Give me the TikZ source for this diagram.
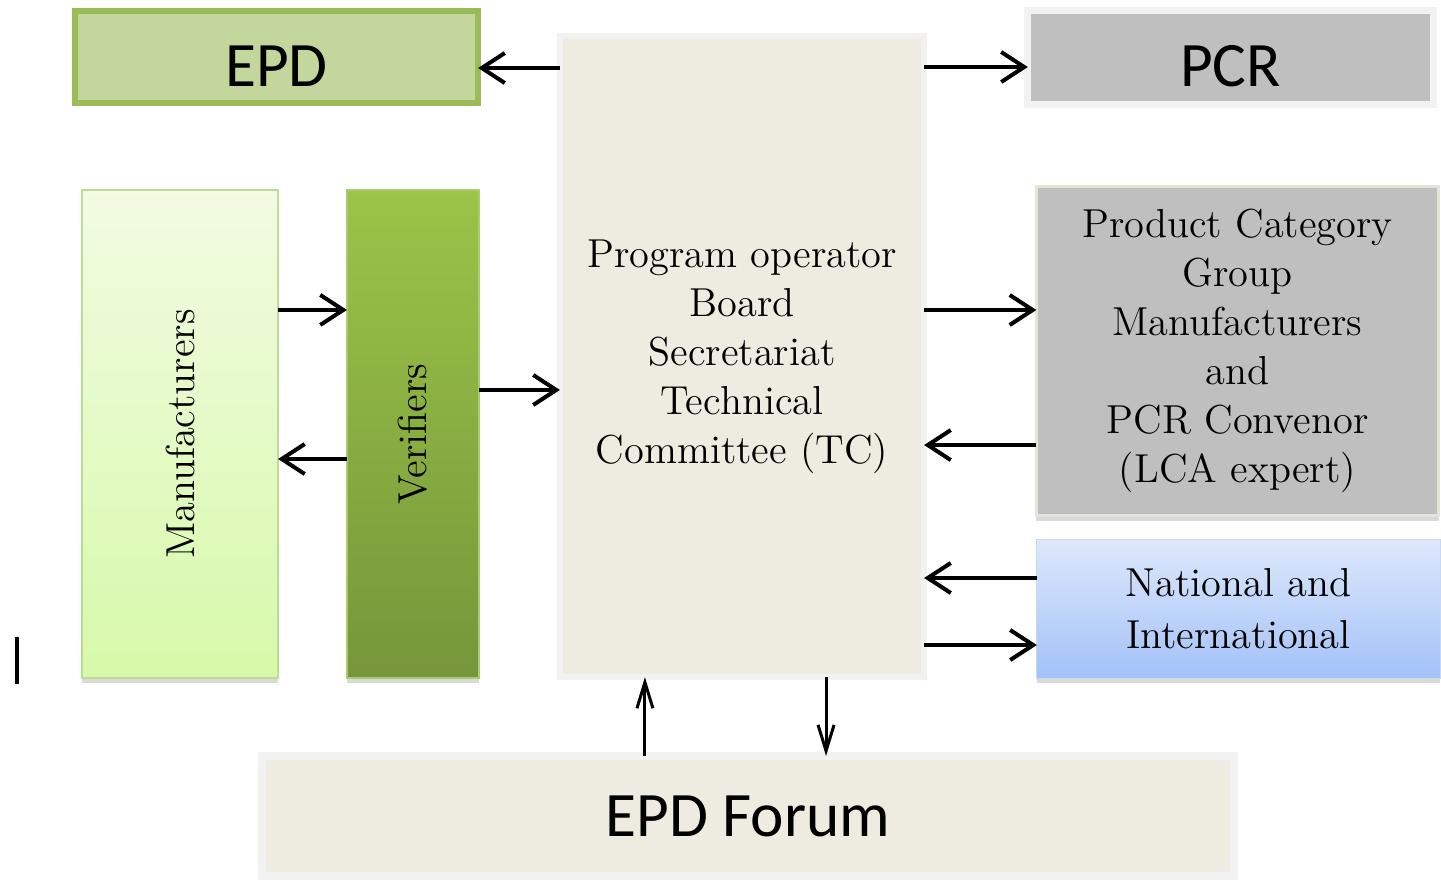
\documentclass[tikz,border=0pt]{standalone}
\usepackage{fontspec}
\usepackage{graphicx}
\newfontfamily\calib{Carlito}
\usetikzlibrary{arrows.meta,shadows}
\definecolor{epdfill}{HTML}{C3D69B}
\definecolor{epdline}{HTML}{9BBB59}
\definecolor{pofill}{HTML}{EEECE1}
\definecolor{softline}{HTML}{F2F2F2}
\definecolor{pcrfill}{HTML}{BFBFBF}
\definecolor{pcgline}{HTML}{E4E4DA}
\definecolor{mantop}{HTML}{F2FBE3}
\definecolor{manbot}{HTML}{D7F9A9}
\definecolor{manline}{HTML}{BBDC94}
\definecolor{vertop}{HTML}{9BC448}
\definecolor{verbot}{HTML}{76963A}
\definecolor{verline}{HTML}{A9CC72}
\definecolor{nattop}{HTML}{DDE8FB}
\definecolor{natbot}{HTML}{A3C2F8}
\definecolor{natline}{HTML}{C6D9F1}
\begin{document}
\begin{tikzpicture}[x=0.01cm,y=-0.01cm,
  blk/.style={rectangle,outer sep=0pt,inner sep=0pt,align=center,
    font=\fontsize{11.5}{13.9}\selectfont},
  big/.style={font=\calib\fontsize{18}{20}\selectfont},
  shd/.style={drop shadow={shadow xshift=0cm,shadow yshift=-0.05cm,opacity=0.3}},
  arr/.style={-{Straight Barb[length=0.23cm,width=0.3cm]},line width=0.04cm},
  varr/.style={-{Straight Barb[length=0.26cm,width=0.16cm]},line width=0.03cm}]
\useasboundingbox (0,0) rectangle (1441,887);
% top row
\node(NEPD)[blk,big,draw=epdline,fill=epdfill,line width=0.06cm,minimum width=4.03cm,minimum height=0.92cm,text height=0.58cm,text depth=0cm] at (276.5,57){EPD};
\node(NPO)[blk,draw=softline,fill=pofill,line width=0.06cm,minimum width=3.64cm,minimum height=6.41cm] at (742,356.5){Program operator\\Board\\Secretariat\\Technical\\Committee (TC)};
\node(NPCR)[blk,big,draw=softline,fill=pcrfill,line width=0.07cm,minimum width=4.05cm,minimum height=0.93cm,text height=0.58cm,text depth=0cm] at (1230.5,57.5){PCR};
% left side
\node(NMAN)[blk,shd,draw=manline,line width=0.02cm,top color=mantop,bottom color=manbot,minimum width=1.96cm,minimum height=4.88cm] at (180,434){\rotatebox{90}{Manufacturers}};
\node(NVER)[blk,shd,draw=verline,line width=0.015cm,top color=vertop,bottom color=verbot,minimum width=1.32cm,minimum height=4.88cm] at (413,434){\rotatebox{90}{Verifiers}};
% right side
\node(NPCG)[blk,shd,draw=pcgline,fill=pcrfill,line width=0.03cm,minimum width=4.02cm,minimum height=3.29cm] at (1237.5,351){Product Category\\Group\\Manufacturers\\and\\PCR Convenor\\(LCA expert)};
\node(NNAT)[blk,shd,draw=natline,line width=0.01cm,top color=nattop,bottom color=natbot,minimum width=4.03cm,minimum height=1.38cm,font=\fontsize{11.5}{14.8}\selectfont] at (1238.5,609){National and\\International};
% bottom
\node(NFOR)[blk,big,draw=softline,fill=pofill,line width=0.08cm,minimum width=9.72cm,minimum height=1.2cm] at (748,816){EPD Forum};
% arrows
\draw[arr] ([yshift=-0.11cm]NEPD.east -| NPO.west) -- ([yshift=-0.11cm]NEPD.east);
\draw[arr] ([yshift=-0.095cm]NPCR.west -| NPO.east) -- ([yshift=-0.095cm]NPCR.west);
\draw[arr] ([yshift=1.24cm]NMAN.east) -- ([yshift=1.24cm]NVER.west);
\draw[arr] ([yshift=-0.25cm]NVER.west) -- ([yshift=-0.25cm]NMAN.east);
\draw[arr] ([yshift=0.44cm]NVER.east) -- ([yshift=0.44cm]NVER.east -| NPO.west);
\draw[arr] ([yshift=0.41cm]NPCG.west -| NPO.east) -- ([yshift=0.41cm]NPCG.west);
\draw[arr] ([yshift=-0.94cm]NPCG.west) -- ([yshift=-0.94cm]NPCG.west -| NPO.east);
\draw[arr] ([yshift=0.31cm]NNAT.west) -- ([yshift=0.31cm]NNAT.west -| NPO.east);
\draw[arr] ([yshift=-0.36cm]NNAT.west -| NPO.east) -- ([yshift=-0.36cm]NNAT.west);
\draw[varr] ([xshift=-1.03cm]NFOR.north) -- ([xshift=-1.03cm]NFOR.north |- NPO.south);
\draw[varr] ([xshift=0.78cm]NFOR.north |- NPO.south) -- ([xshift=0.78cm]NFOR.north);
% stray mark at left
\draw[line width=0.04cm] (17,637) -- (17,684);
\end{tikzpicture}
\end{document}
